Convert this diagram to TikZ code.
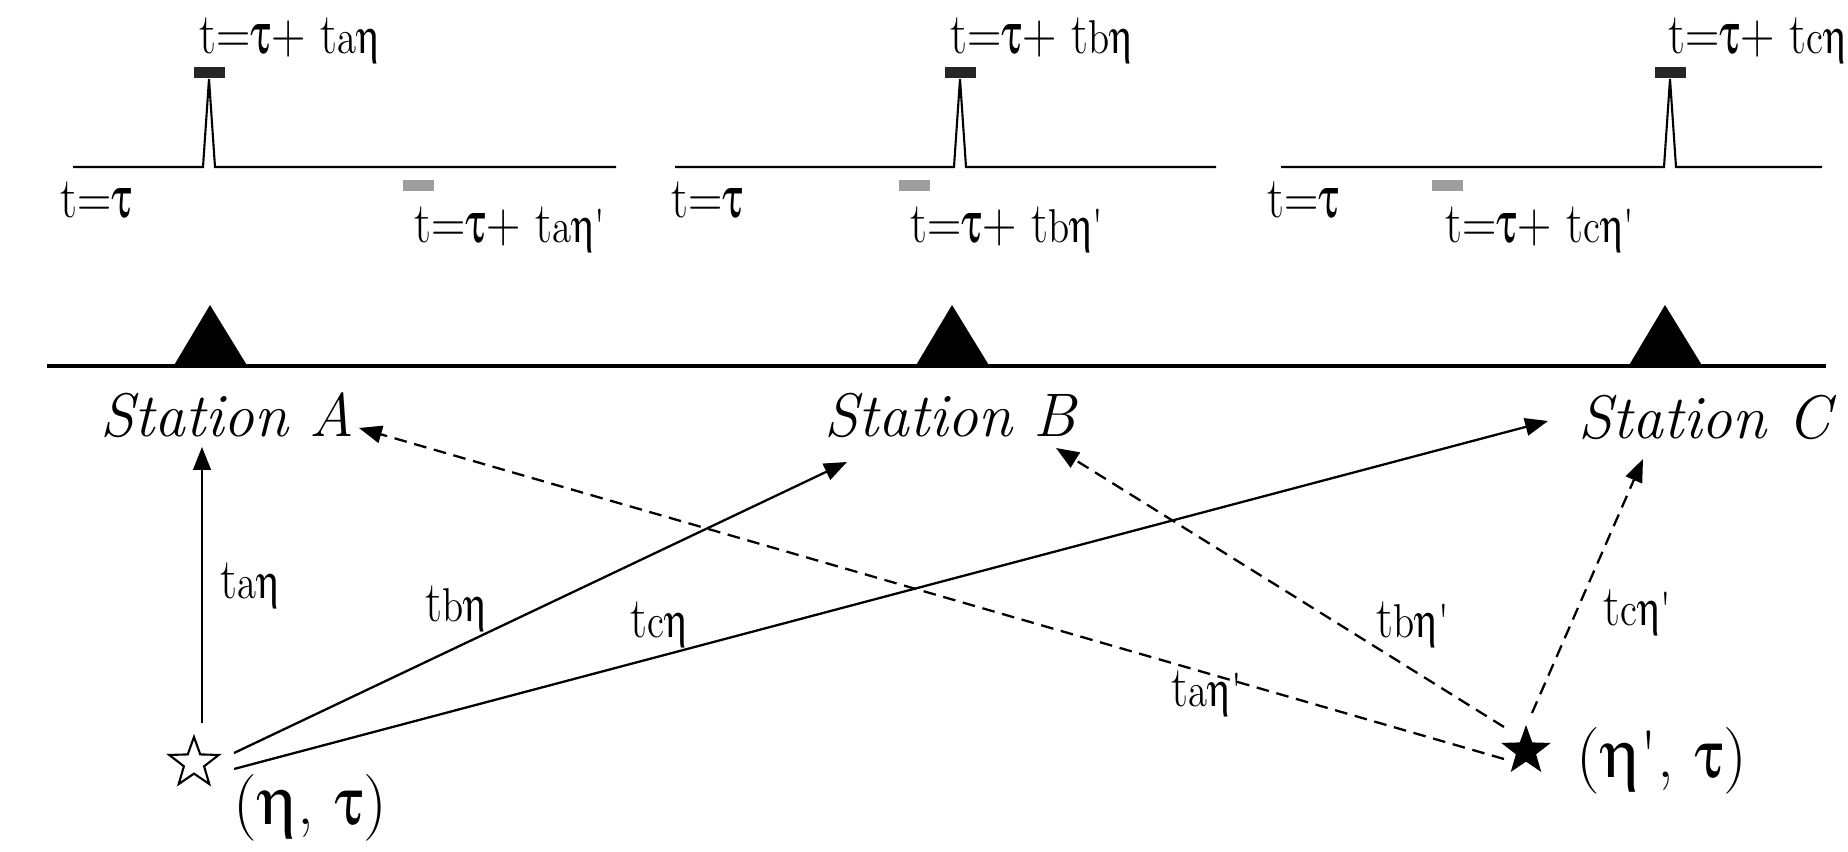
\documentclass[tikz,border=0pt]{standalone}
\usepackage{fix-cm}
\usepackage{graphicx}
\usepackage[Symbol]{upgreek}
\usetikzlibrary{arrows.meta,shapes.geometric}
\newcommand\tsmall[1]{{\fontsize{13.5}{13.5}\selectfont #1}}
\newcommand\gtau{$\uptau$}
\newcommand\geta{$\upeta$}
\newcommand\qs{\textquotesingle}
\newcommand\sq[1]{\scalebox{0.82}[1]{#1}}
\begin{document}
\begin{tikzpicture}[x=0.01cm,y=-0.01cm,
  lbl/.style={inner sep=0,anchor=base west,font=\fontsize{16.5}{16.5}\selectfont},
  big/.style={inner sep=0,anchor=base west,font=\fontsize{19}{19}\selectfont},
  station/.style={inner sep=0,anchor=base west,font=\fontsize{17.5}{17.5}\selectfont\itshape},
  conn/.style={line width=0.65pt,-{Triangle[length=6.5pt,width=5pt]}},
  dconn/.style={conn,dash pattern=on 3.6pt off 2.2pt},
  trace/.style={line width=0.6pt,line join=miter},
  ground/.style={line width=1.3pt},
  pick/.style={fill=black!85},
  gpick/.style={fill=black!38},
  wstar/.style={star,star points=5,star point ratio=2.45,minimum size=0.52cm,inner sep=0,draw,line width=0.6pt,fill=white},
  bstar/.style={star,star points=5,star point ratio=2.45,minimum size=0.52cm,inner sep=0,fill=black}]
\path[use as bounding box] (0,0) rectangle (1848,852);
\clip (0,0) rectangle (1848,852);

% seismogram traces
\foreach \s/\p/\e/\g in {73/209/616/403,675/960/1216/899,1281/1670/1822/1432}{
  \draw[trace] (\s,167) -- (\p-6,167) -- (\p,79) -- (\p+6,167) -- (\e,167);
  \fill[pick] (\p-15.5,67) rectangle (\p+15.5,78);
  \fill[gpick] (\g,180) rectangle (\g+31,191);
}
\node[lbl] (topA) at (199,54) {\sq{t=\gtau+ t\tsmall{a\geta}}};
\node[lbl] (topB) at (950,54) {\sq{t=\gtau+ t\tsmall{b\geta}}};
\node[lbl] (topC) at (1668,54) {\sq{t=\gtau+ t\tsmall{c\geta}}};
\node[lbl] (zeroA) at (60,218) {\sq{t=\gtau}};
\node[lbl] (zeroB) at (671,218) {\sq{t=\gtau}};
\node[lbl] (zeroC) at (1267,218) {\sq{t=\gtau}};
\node[lbl] (botA) at (414,243) {\sq{t=\gtau+ t\tsmall{a\geta\qs}}};
\node[lbl] (botB) at (910,243) {\sq{t=\gtau+ t\tsmall{b\geta\qs}}};
\node[lbl] (botC) at (1445,243) {\sq{t=\gtau+ t\tsmall{c\geta\qs}}};

% ground and stations
\draw[ground] (47,366) -- (1826,366);
\fill (173,367) -- (210,305) -- (248,367) -- cycle;
\fill (915,367) -- (952,305) -- (990,367) -- cycle;
\fill (1628,367) -- (1665,305) -- (1703,367) -- cycle;
\node[station] (stA) at (100,437) {Station A};
\node[station] (stB) at (824,437) {Station B};
\node[station] (stC) at (1578,439) {Station C};

% events
\node[wstar] (ws) at (194,763) {};
\node[bstar] (bs) at (1526,751) {};
\node[big] (wsl) at (233,824) {(\geta, \gtau)};
\node[big] (bsl) at (1576,777) {(\geta\qs, \gtau)};

\coordinate (wsA) at (202,723);
\coordinate (wsB) at (234,753);
\coordinate (wsC) at (234,769);
\coordinate (bsA) at (1504,759);
\coordinate (bsB) at (1504,727);
\coordinate (bsC) at (1532,713);
\coordinate (inA1) at (202,447);
\coordinate (inB1) at (847,462);
\coordinate (inC1) at (1548,421);
\coordinate (inA2) at (359,428);
\coordinate (inB2) at (1056,448);
\coordinate (inC2) at (1643,459);

\draw[conn] (wsA) -- (inA1);
\draw[conn] (wsB) -- (inB1);
\draw[conn] (wsC) -- (inC1);
\draw[dconn] (bsA) -- (inA2);
\draw[dconn] (bsB) -- (inB2);
\draw[dconn] (bsC) -- (inC2);

\node[lbl] (la1) at (220,599) {\sq{t\tsmall{a\geta}}};
\node[lbl] (lb1) at (425,621) {\sq{t\tsmall{b\geta}}};
\node[lbl] (lc1) at (630,637) {\sq{t\tsmall{c\geta}}};
\node[lbl] (la2) at (1171,706) {\sq{t\tsmall{a\geta\qs}}};
\node[lbl] (lb2) at (1376,637) {\sq{t\tsmall{b\geta\qs}}};
\node[lbl] (lc2) at (1603,626) {\sq{t\tsmall{c\geta\qs}}};
\end{tikzpicture}
\end{document}
